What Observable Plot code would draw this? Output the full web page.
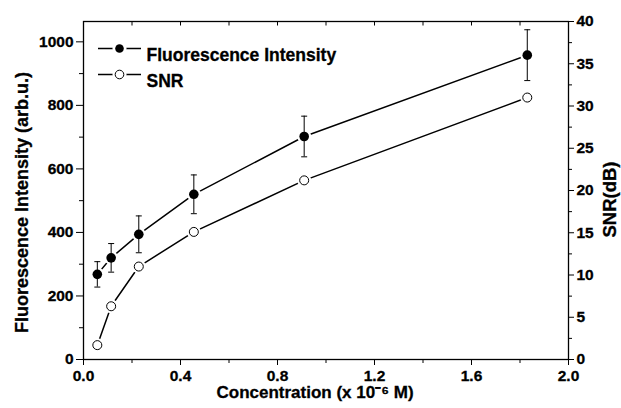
<!DOCTYPE html>
<html>
<head>
<meta charset="utf-8">
<script src="https://cdn.jsdelivr.net/npm/d3@7"></script>
<script src="https://cdn.jsdelivr.net/npm/@observablehq/plot@0.6"></script>
<style>
  body { margin: 0; background: #fff; }
  svg text { stroke: black; stroke-width: 0.3px; }
</style>
</head>
<body>
<div id="chart"></div>
<script>
// ---- data ----
const concentration = [0.057, 0.114, 0.228, 0.455, 0.91, 1.83];   // x 10^-6 M
const intensity     = [268, 320, 394, 520, 702, 958];             // arb.u.
const intensityErr  = [40, 45, 58, 61, 64, 80];                   // +/- error
const snr           = [1.7, 6.3, 11.0, 15.1, 21.2, 31.0];         // dB

const xTicks        = [0, 0.4, 0.8, 1.2, 1.6, 2.0];
const xMinorTicks   = [0.2, 0.6, 1.0, 1.4, 1.8];
const yTicks        = [0, 200, 400, 600, 800, 1000];
const yMinorTicks   = [100, 300, 500, 700, 900];
const snrTicks      = [0, 5, 10, 15, 20, 25, 30, 35, 40];
const snrMinorTicks = [2.5, 7.5, 12.5, 17.5, 22.5, 27.5, 32.5, 37.5];

const legendLabels  = ["Fluorescence Intensity", "SNR"];
const xTitle = "Concentration (x 10\u207B\u2076 M)";
const yTitle = "Fluorescence Intensity (arb.u.)";
const y2Title = "SNR(dB)";

const yMax = 1064, snrMax = 40;
const k = yMax / snrMax; // SNR -> left-axis units

const rows = concentration.map((c, i) => ({
  c, i: intensity[i], e: intensityErr[i], s: snr[i] * k
}));

// custom symbols
const hbar = w => ({ draw(ctx) { ctx.moveTo(-w, 0); ctx.lineTo(w, 0); } });
const vtick = len => ({ draw(ctx) { ctx.moveTo(0, 0); ctx.lineTo(0, len); } });

const blank = () => "";

const chart = Plot.plot({
  width: 621,
  height: 408,
  marginLeft: 83,
  marginRight: 53,
  marginTop: 21,
  marginBottom: 49,
  style: {
    fontFamily: "'Liberation Sans', Arial, sans-serif",
    fontWeight: "bold",
    fontSize: "15.5px",
    color: "black",
    background: "white"
  },
  x: { domain: [0, 2] },
  y: { domain: [0, yMax] },
  marks: [
    // axes
    Plot.axisX(xTicks, { anchor: "bottom", tickSize: 6, tickPadding: 4, tickFormat: d3.format(".1f"), label: null }),
    Plot.axisX(xMinorTicks, { anchor: "bottom", tickSize: 4, tickFormat: blank, label: null }),
    Plot.dot(xTicks.concat(xMinorTicks), { x: d => d, frameAnchor: "top", symbol: vtick(4), stroke: "black", strokeWidth: 1 }),
    Plot.axisY(yTicks, { anchor: "left", tickSize: 7, tickPadding: 3, tickFormat: d => String(d), label: null }),
    Plot.axisY(yMinorTicks, { anchor: "left", tickSize: 4, tickFormat: blank, label: null }),
    Plot.axisY(snrTicks.map(v => v * k), { anchor: "right", tickSize: 5, tickPadding: 3, tickFormat: v => String(Math.round(v / k)), label: null }),
    Plot.axisY(snrMinorTicks.map(v => v * k), { anchor: "right", tickSize: 3, tickFormat: blank, label: null }),
    Plot.frame({ stroke: "black", strokeWidth: 1.3 }),

    // connecting lines
    Plot.line(rows, { x: "c", y: "i", stroke: "black", strokeWidth: 1.5 }),
    Plot.line(rows, { x: "c", y: "s", stroke: "black", strokeWidth: 1.5 }),

    // white halos (gaps around markers)
    Plot.dot(rows, { x: "c", y: "i", r: 7, fill: "white" }),
    Plot.dot(rows, { x: "c", y: "s", r: 7, fill: "white" }),

    // error bars
    Plot.ruleX(rows, { x: "c", y1: d => d.i - d.e, y2: d => d.i + d.e, stroke: "black", strokeWidth: 1 }),
    Plot.dot(rows, { x: "c", y: d => d.i + d.e, symbol: hbar(3), stroke: "black", strokeWidth: 1 }),
    Plot.dot(rows, { x: "c", y: d => d.i - d.e, symbol: hbar(3), stroke: "black", strokeWidth: 1 }),

    // markers
    Plot.dot(rows, { x: "c", y: "i", r: 4.8, fill: "black" }),
    Plot.dot(rows, { x: "c", y: "s", r: 4.5, fill: "white", stroke: "black", strokeWidth: 1 }),

    // legend
    Plot.dot([0], { frameAnchor: "top-left", dx: 36, dy: 27, symbol: hbar(21.5), stroke: "black", strokeWidth: 1.7 }),
    Plot.dot([0], { frameAnchor: "top-left", dx: 36, dy: 27, r: 7, fill: "white" }),
    Plot.dot([0], { frameAnchor: "top-left", dx: 36, dy: 27, r: 4.3, fill: "black" }),
    Plot.dot([0], { frameAnchor: "top-left", dx: 36, dy: 53, symbol: hbar(21.5), stroke: "black", strokeWidth: 1.7 }),
    Plot.dot([0], { frameAnchor: "top-left", dx: 36, dy: 53, r: 7, fill: "white" }),
    Plot.dot([0], { frameAnchor: "top-left", dx: 36, dy: 53, r: 4.3, fill: "white", stroke: "black", strokeWidth: 1 }),
    Plot.text([legendLabels[0]], { frameAnchor: "top-left", dx: 63, dy: 27, textAnchor: "start", fontSize: 17.5, fontWeight: "bold" }),
    Plot.text([legendLabels[1]], { frameAnchor: "top-left", dx: 63, dy: 53, textAnchor: "start", fontSize: 17.5, fontWeight: "bold" }),

    // axis titles
    Plot.text([xTitle], { frameAnchor: "bottom", dx: -11, dy: 38, textAnchor: "middle", fontSize: 17, fontWeight: "bold" }),
    Plot.text([yTitle], { frameAnchor: "left", dx: -61, dy: 12, rotate: -90, textAnchor: "middle", fontSize: 18, fontWeight: "bold" }),
    Plot.text([y2Title], { frameAnchor: "right", dx: 42, dy: 9, rotate: -90, textAnchor: "middle", fontSize: 18.5, fontWeight: "bold" })
  ]
});

document.getElementById("chart").appendChild(chart);
</script>
</body>
</html>
